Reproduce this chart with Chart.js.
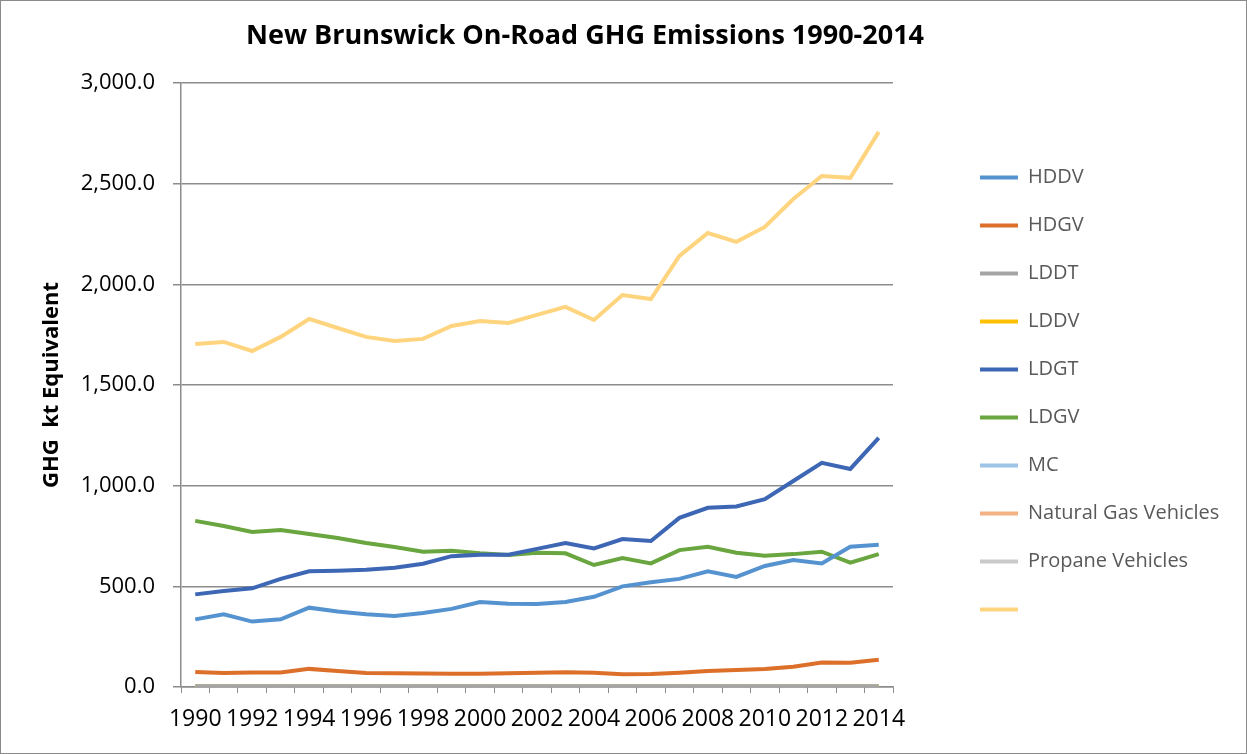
<!DOCTYPE html>
<html lang="en">
<head>
    <meta charset="UTF-8">
    <title>New Brunswick On-Road GHG Emissions 1990-2014</title>
    <script src="https://cdn.jsdelivr.net/npm/chart.js"></script>
    <style>
        body {
            margin: 0;
            background: white;
            font-family: "Open Sans", sans-serif;
        }
        .frame {
            position: absolute;
            left: 0;
            top: 0;
            width: 1245px;
            height: 752px;
            border: 1px solid #8a8a8a;
        }
        .title {
            position: absolute;
            left: 0;
            width: 1168px;
            top: 14px;
            text-align: center;
            font-size: 27px;
            font-weight: bold;
            color: #000;
        }
    </style>
</head>
<body>
    <div class="frame">
        <div class="title">New Brunswick On-Road GHG Emissions 1990-2014</div>
        <canvas id="ghgChart" width="1245" height="752"></canvas>
    </div>
    <script>
        const years = ["1990","1991","1992","1993","1994","1995","1996","1997","1998","1999","2000","2001","2002",
                       "2003","2004","2005","2006","2007","2008","2009","2010","2011","2012","2013","2014"];

        const hddv = [336,361,325,336,394,375,361,353,368,388,422,414,412,422,448,500,520,537,575,547,601,631,614,697,707];
        const hdgv = [75,70,72,72,90,80,70,68,67,66,66,68,71,73,71,63,64,71,80,85,90,101,122,120,135];
        const lddt = [4,4,4,4,4,4,4,4,4,4,4,4,4,4,4,4,4,4,4,4,4,4,4,4,4];
        const lddv = [2,2,2,2,2,2,2,2,2,2,2,2,2,2,2,2,2,2,2,2,2,2,2,2,2];
        const ldgt = [460,477,490,537,575,578,582,592,612,650,657,657,686,715,688,735,725,840,890,897,933,1023,1113,1083,1237];
        const ldgv = [825,800,770,780,760,740,715,695,672,677,664,656,667,664,606,640,614,680,697,667,652,660,672,618,660];
        const mc = [3,3,3,3,3,3,3,3,3,3,3,3,3,3,3,3,3,3,3,3,3,3,3,3,3];
        const ngv = [0,0,0,0,0,0,0,0,0,0,0,0,0,0,0,0,0,0,0,0,0,0,0,0,0];
        const propane = [2,2,2,2,2,2,2,2,2,2,2,2,2,2,2,2,2,2,2,2,2,2,2,2,2];
        const total = [1704,1714,1669,1739,1828,1783,1739,1719,1729,1793,1818,1808,1848,1888,1823,1947,1927,2141,2255,2211,2285,2424,2538,2529,2757];

        const yTicks = [0, 500, 1000, 1500, 2000, 2500, 3000];

        function line(label, data, color) {
            return {
                label: label,
                data: data,
                borderColor: color,
                backgroundColor: color,
                borderWidth: 4,
                pointRadius: 0,
                pointStyle: "line",
                tension: 0
            };
        }

        const ctx = document.getElementById("ghgChart").getContext("2d");
        const chart = new Chart(ctx, {
            type: "line",
            data: {
                labels: years,
                datasets: [
                    line("HDDV", hddv, "#5593d0"),
                    line("HDGV", hdgv, "#dc6f2a"),
                    line("LDDT", lddt, "#a5a5a5"),
                    line("LDDV", lddv, "#ffc000"),
                    line("LDGT", ldgt, "#3d66b4"),
                    line("LDGV", ldgv, "#69a63f"),
                    line("MC", mc, "#9dc3e6"),
                    line("Natural Gas Vehicles", ngv, "#f4b183"),
                    line("Propane Vehicles", propane, "#c9c9c9"),
                    line("", total, "#ffd47f")
                ]
            },
            options: {
                responsive: false,
                animation: false,
                layout: {
                    padding: { top: 82, bottom: 0, left: 0, right: 0 }
                },
                plugins: {
                    title: { display: false },
                    tooltip: { enabled: false },
                    legend: {
                        position: "right",
                        align: "start",
                        fullSize: false,
                        title: {
                            display: true,
                            text: "",
                            padding: { top: 42, bottom: 0 },
                            font: { size: 12 }
                        },
                        labels: {
                            usePointStyle: true,
                            pointStyle: "line",
                            pointStyleWidth: 38,
                            boxHeight: 20,
                            padding: 28,
                            color: "#595959",
                            font: { family: "Open Sans", size: 20 }
                        }
                    }
                },
                scales: {
                    x: {
                        offset: true,
                        afterFit: function (scale) {
                            scale.height = 66;
                        },
                        grid: {
                            offset: true,
                            drawOnChartArea: false,
                            drawTicks: true,
                            tickLength: 6,
                            color: "#8c8c8c"
                        },
                        border: { color: "#8c8c8c", width: 1.5 },
                        ticks: {
                            autoSkip: false,
                            maxRotation: 0,
                            color: "#000",
                            padding: 13,
                            font: { family: "Open Sans", size: 23 },
                            callback: function (value, index) {
                                return index % 2 === 0 ? years[index] : "";
                            }
                        }
                    },
                    y: {
                        min: 0,
                        max: 3000,
                        afterBuildTicks: function (scale) {
                            scale.ticks = yTicks.map(v => ({ value: v }));
                        },
                        afterFit: function (scale) {
                            scale.width = 180;
                        },
                        grid: {
                            color: "#8c8c8c",
                            lineWidth: 1.5,
                            tickLength: 8
                        },
                        border: { color: "#8c8c8c", width: 1.5 },
                        ticks: {
                            color: "#000",
                            padding: 18,
                            font: { family: "Open Sans", size: 22 },
                            callback: function (value) {
                                return value.toLocaleString("en-US", { minimumFractionDigits: 1, maximumFractionDigits: 1 });
                            }
                        },
                        title: {
                            display: true,
                            text: "GHG  kt Equivalent",
                            color: "#000",
                            padding: { top: 38, bottom: 0 },
                            font: { family: "Open Sans", size: 22, weight: "bold" }
                        }
                    },
                    gap: {
                        position: "right",
                        display: true,
                        grid: { display: false },
                        border: { display: false },
                        ticks: { display: false },
                        afterFit: function (scale) {
                            scale.width = 59;
                        }
                    }
                }
            }
        });

        // legend needs more room than the layout's per-box limit gives it
        const legendFit = chart.legend.fit;
        chart.legend.fit = function () {
            legendFit.call(this);
            this.width = 294;
        };
        chart.update();
    </script>
</body>
</html>
